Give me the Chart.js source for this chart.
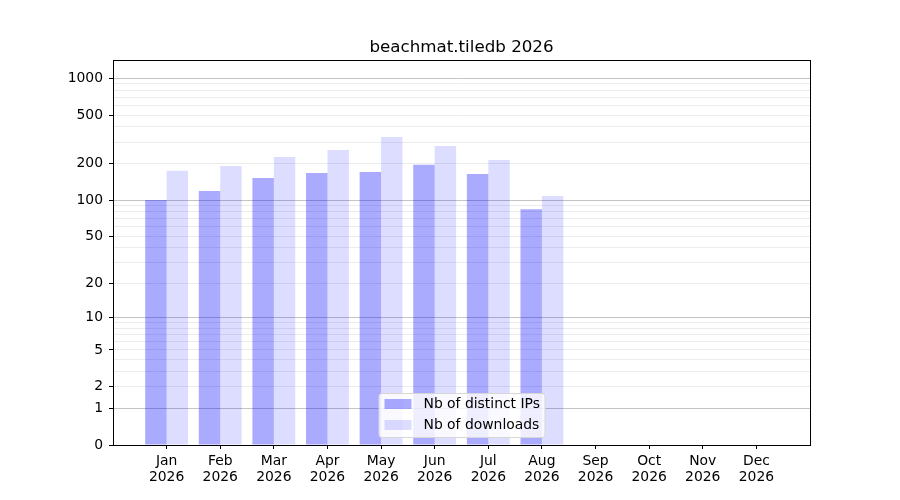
<!DOCTYPE html>
<html>
<head>
<meta charset="utf-8">
<script src="https://cdn.jsdelivr.net/npm/chart.js@4.4.0/dist/chart.umd.min.js"></script>
<style>
  html, body { margin: 0; padding: 0; background: #fff; }
  #wrap { width: 900px; height: 500px; }
</style>
</head>
<body>
<div id="wrap"><canvas id="myChart" width="900" height="500"></canvas></div>
<script>
let months = ['Jan', 'Feb', 'Mar', 'Apr', 'May', 'Jun', 'Jul', 'Aug', 'Sep', 'Oct', 'Nov', 'Dec'];
let year = '2026';
let distinctIPs = [100, 119, 152, 167, 170, 195, 164, 84];
let downloads = [174, 191, 226, 258, 330, 279, 214, 108];
let yTickLabels = [0, 1, 2, 5, 10, 20, 50, 100, 200, 500, 1000];
let yMajor = [1, 10, 100, 1000];
let chartTitle = 'beachmat.tiledb 2026';

// symlog-like axis: plot log10(1 + v)
let f = v => Math.log10(1 + v);

// grid values: 0..9, 10..90, 100..900, 1000
let gridVals = [0];
[1, 10, 100].forEach(d => { for (let k = 1; k <= 9; k++) gridVals.push(k * d); });
gridVals.push(1000);

// pad one empty slot on each side like the original x limits
let xLabels = [''].concat(months.map(m => [m, year])).concat(['']);
let ipData = [null].concat(distinctIPs.map(f));
let dlData = [null].concat(downloads.map(f));

let FONT = 'DejaVu Sans';

let frame = {
    id: 'frame',
    afterDatasetsDraw(chart) {
        let a = chart.chartArea, c = chart.ctx;
        c.save();
        c.strokeStyle = '#000';
        c.lineWidth = 1;
        c.strokeRect(Math.round(a.left) + 0.5, Math.round(a.top) + 0.5,
            Math.round(a.right - a.left), Math.round(a.bottom - a.top));
        // title centred over the plot area
        c.fillStyle = '#000';
        c.font = '16.7px "' + FONT + '"';
        c.textAlign = 'center';
        c.textBaseline = 'middle';
        c.fillText(chartTitle, (a.left + a.right) / 2, a.top - 12);
        c.restore();
    }
};

let legendBox = {
    id: 'legendBox',
    afterDraw(chart) {
        let a = chart.chartArea, c = chart.ctx;
        let w = 166, h = 44;
        let x = (a.left + a.right) / 2 - w / 2;
        let y = a.bottom - 8 - h;
        c.save();
        c.beginPath();
        c.roundRect(x + 0.5, y + 0.5, w, h, 3);
        c.fillStyle = 'rgba(255,255,255,0.8)';
        c.fill();
        c.strokeStyle = '#d6d6d6';
        c.lineWidth = 1;
        c.stroke();
        c.font = '13.9px "' + FONT + '"';
        c.textBaseline = 'middle';
        chart.data.datasets.forEach((ds, i) => {
            let py = y + 6 + i * 21;
            c.fillStyle = ds.backgroundColor;
            c.fillRect(x + 6, py, 27, 10);
            c.fillStyle = '#000';
            c.fillText(ds.label, x + 45, py + 5.5);
        });
        c.restore();
    }
};

let ctx = document.getElementById('myChart').getContext('2d');
let myChart = new Chart(ctx, {
    type: 'bar',
    data: {
        labels: xLabels,
        datasets: [{
            label: 'Nb of distinct IPs',
            data: ipData,
            backgroundColor: 'rgba(0, 0, 255, 0.333)',
            borderWidth: 0
        }, {
            label: 'Nb of downloads',
            data: dlData,
            backgroundColor: 'rgba(0, 0, 255, 0.133)',
            borderWidth: 0
        }]
    },
    options: {
        responsive: false,
        animation: false,
        devicePixelRatio: 1,
        layout: { padding: { left: 0, right: 90, top: 60, bottom: 0 } },
        datasets: { bar: { categoryPercentage: 0.8, barPercentage: 1.0 } },
        plugins: {
            legend: { display: false },
            tooltip: { enabled: false },
            title: { display: false }
        },
        scales: {
            x: {
                offset: false,
                border: { display: false },
                grid: {
                    offset: false,
                    drawOnChartArea: false,
                    tickLength: 4,
                    tickColor: c => (c.index === 0 || c.index === xLabels.length - 1) ? 'rgba(0,0,0,0)' : '#000'
                },
                ticks: {
                    color: '#000',
                    padding: 4,
                    autoSkip: false,
                    maxRotation: 0,
                    font: { family: FONT, size: 13.9, lineHeight: 1.15 }
                },
                afterFit: s => { s.height = 55; }
            },
            y: {
                min: 0,
                max: 3.15,
                border: { display: false },
                afterBuildTicks: s => { s.ticks = gridVals.map(v => ({ value: f(v) })); },
                afterFit: s => { s.width = 113; },
                grid: {
                    tickLength: 4,
                    color: c => {
                        let v = gridVals[c.index];
                        if (v === 0) return 'rgba(0,0,0,0)';
                        return yMajor.includes(v) ? '#c4c4c4' : '#ececec';
                    },
                    tickColor: c => yTickLabels.includes(gridVals[c.index]) ? '#000' : 'rgba(0,0,0,0)'
                },
                ticks: {
                    color: '#000',
                    padding: 6,
                    autoSkip: false,
                    font: { family: FONT, size: 13.9 },
                    callback: (value, index) => yTickLabels.includes(gridVals[index]) ? String(gridVals[index]) : ''
                }
            }
        }
    },
    plugins: [frame, legendBox]
});
</script>
</body>
</html>
